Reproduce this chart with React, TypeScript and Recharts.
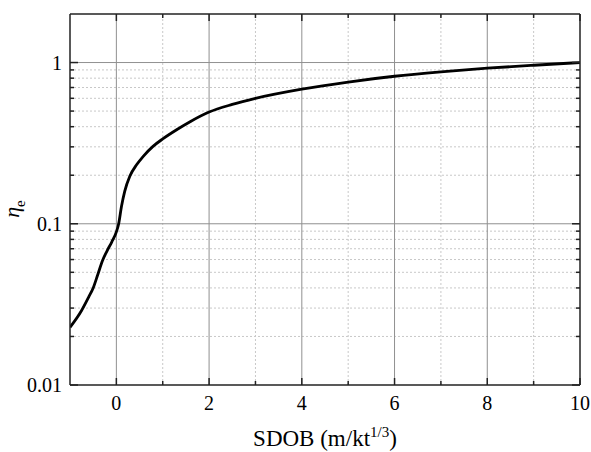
import { LineChart, Line, XAxis, YAxis, ReferenceLine, Label } from "recharts";

const FONT = "Liberation Serif";

// SDOB (m/kt^1/3) and efficiency eta_e
const sdob = [-1, -0.75, -0.6, -0.5, -0.4, -0.3, -0.2, -0.1, 0, 0.05, 0.11, 0.18, 0.29, 0.44, 0.58, 0.79, 1, 1.3, 1.6, 2, 2.5, 3, 4, 5, 6, 7, 8, 9, 10];
const eta = [0.0228, 0.029, 0.035, 0.04, 0.0485, 0.059, 0.068, 0.077, 0.089, 0.1, 0.128, 0.159, 0.197, 0.233, 0.262, 0.302, 0.336, 0.383, 0.431, 0.493, 0.55, 0.6, 0.684, 0.757, 0.822, 0.875, 0.922, 0.962, 1.0];

const xMajorTicks = [0, 2, 4, 6, 8, 10];
const xMinorTicks = [1, 3, 5, 7, 9];
const yMajorTicks = [0.01, 0.1, 1];
const yMinorTicks = [0.02, 0.03, 0.04, 0.05, 0.06, 0.07, 0.08, 0.09, 0.2, 0.3, 0.4, 0.5, 0.6, 0.7, 0.8, 0.9];

const data = sdob.map((x, i) => ({ x, eta: eta[i] }));
const xTicks = [...xMajorTicks, ...xMinorTicks].sort((a, b) => a - b);
const yTicks = [...yMajorTicks, ...yMinorTicks].sort((a, b) => a - b);

const TICK = "#222";
const textStyle = { fontFamily: FONT, fill: "#000" };

const bottomTick = (props: any) => {
  const { x, y, payload } = props;
  const major = xMajorTicks.includes(payload.value);
  return (
    <g>
      <line x1={x} x2={x} y1={y} y2={y - (major ? 7 : 4)} stroke={TICK} strokeWidth={1.5} />
      {major && (
        <text x={x} y={y + 25} textAnchor="middle" fontSize={20} fontFamily={FONT} style={textStyle}>
          {payload.value}
        </text>
      )}
    </g>
  );
};

const topTick = (props: any) => {
  const { x, y, payload } = props;
  const major = xMajorTicks.includes(payload.value);
  return <line x1={x} x2={x} y1={y} y2={y + (major ? 7 : 4)} stroke={TICK} strokeWidth={1.5} />;
};

const leftTick = (props: any) => {
  const { x, y, payload } = props;
  const major = yMajorTicks.includes(payload.value);
  return (
    <g>
      <line x1={x} x2={x + (major ? 8 : 4)} y1={y} y2={y} stroke={TICK} strokeWidth={1.5} />
      {major && (
        <text x={x - 8} y={y + 7} textAnchor="end" fontSize={20} fontFamily={FONT} style={textStyle}>
          {payload.value}
        </text>
      )}
    </g>
  );
};

const rightTick = (props: any) => {
  const { x, y, payload } = props;
  const major = yMajorTicks.includes(payload.value);
  return <line x1={x} x2={x - (major ? 8 : 4)} y1={y} y2={y} stroke={TICK} strokeWidth={1.5} />;
};

const xTitle = (props: any) => {
  const vb = props.viewBox;
  const cx = vb.x + vb.width / 2;
  return (
    <text x={cx} y={vb.y + 61} textAnchor="middle" fontSize={23} fontFamily={FONT} style={textStyle}>
      SDOB (m/kt
      <tspan dy={-9} fontSize={15}>1/3</tspan>
      <tspan dy={9}>)</tspan>
    </text>
  );
};

const yTitle = (props: any) => {
  const vb = props.viewBox;
  const cy = vb.y + 195;
  const cx = 19;
  return (
    <text x={cx} y={cy} transform={`rotate(-90, ${cx}, ${cy})`} textAnchor="middle" fontSize={22} fontFamily={FONT} style={textStyle}>
      <tspan fontStyle="italic">η</tspan>
      <tspan dy={6} fontSize={15}>e</tspan>
    </text>
  );
};

export default function App() {
  return (
    <div style={{ position: "absolute", left: 0, top: 0, background: "#fff", fontFamily: FONT }}>
      <LineChart width={591} height={452} data={data} margin={{ top: 0, right: 0, bottom: 0, left: 0 }} style={{ fontFamily: FONT }}>
        {xMinorTicks.map((v) => (
          <ReferenceLine key={`xm${v}`} x={v} xAxisId="bottom" yAxisId="left" stroke="#c8c8c8" strokeDasharray="2 2" />
        ))}
        {yMinorTicks.map((v) => (
          <ReferenceLine key={`ym${v}`} y={v} xAxisId="bottom" yAxisId="left" stroke="#c8c8c8" strokeDasharray="2 2" />
        ))}
        {xMajorTicks.slice(0, -1).map((v) => (
          <ReferenceLine key={`xM${v}`} x={v} xAxisId="bottom" yAxisId="left" stroke="#909090" />
        ))}
        {yMajorTicks.slice(1).map((v) => (
          <ReferenceLine key={`yM${v}`} y={v} xAxisId="bottom" yAxisId="left" stroke="#909090" />
        ))}
        <XAxis
          xAxisId="bottom"
          dataKey="x"
          type="number"
          domain={[-1, 10]}
          ticks={xTicks}
          interval={0}
          height={67}
          tickSize={0}
          tickMargin={0}
          tickLine={false}
          tick={bottomTick}
          axisLine={{ stroke: TICK, strokeWidth: 1.5 }}
          allowDataOverflow
        >
          <Label content={xTitle} />
        </XAxis>
        <XAxis
          xAxisId="top"
          orientation="top"
          dataKey="x"
          type="number"
          domain={[-1, 10]}
          ticks={xTicks}
          interval={0}
          height={14}
          tickSize={0}
          tickMargin={0}
          tickLine={false}
          tick={topTick}
          axisLine={{ stroke: TICK, strokeWidth: 1.5 }}
          allowDataOverflow
        />
        <YAxis
          yAxisId="left"
          scale="log"
          type="number"
          domain={[0.01, 2]}
          ticks={yTicks}
          interval={0}
          width={70}
          tickSize={0}
          tickMargin={0}
          tickLine={false}
          tick={leftTick}
          axisLine={{ stroke: TICK, strokeWidth: 1.5 }}
          allowDataOverflow
        >
          <Label content={yTitle} />
        </YAxis>
        <YAxis
          yAxisId="right"
          orientation="right"
          scale="log"
          type="number"
          domain={[0.01, 2]}
          ticks={yTicks}
          interval={0}
          width={11}
          tickSize={0}
          tickMargin={0}
          tickLine={false}
          tick={rightTick}
          axisLine={{ stroke: TICK, strokeWidth: 1.5 }}
          allowDataOverflow
        />
        <Line
          xAxisId="bottom"
          yAxisId="left"
          dataKey="eta"
          type="monotone"
          stroke="#000"
          strokeWidth={2.8}
          dot={false}
          isAnimationActive={false}
        />
      </LineChart>
    </div>
  );
}
